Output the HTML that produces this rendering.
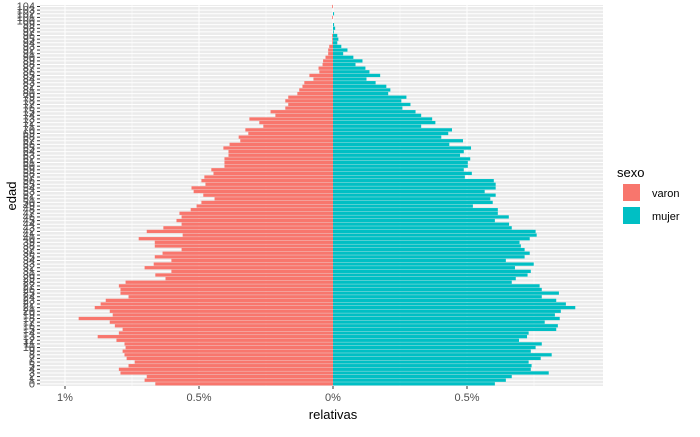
<!DOCTYPE html>
<html><head><meta charset="utf-8"><style>
body{margin:0;background:#fff;}
svg text{font-family:"Liberation Sans",sans-serif;}
</style></head><body>
<svg id="chart" width="700" height="432" xmlns="http://www.w3.org/2000/svg">
<rect x="0" y="0" width="700" height="432" fill="#fff"/>
<rect x="40" y="5" width="563" height="381" fill="#EBEBEB"/>
<g id="grid"></g><g id="bars"></g><g id="yticks"></g><g id="xticks"></g>
<text x="333" y="419" font-size="13" fill="#000" text-anchor="middle">relativas</text>
<text x="16" y="196" font-size="13" fill="#000" text-anchor="middle" transform="rotate(-90 16 196)">edad</text>
<g>
<text x="617" y="177" font-size="13">sexo</text>
<rect x="623" y="184" width="17" height="17" fill="#F8766D"/>
<text x="652" y="197" font-size="11">varon</text>
<rect x="623" y="207" width="17" height="17" fill="#00BFC4"/>
<text x="652" y="220" font-size="11">mujer</text>
</g>
</svg>
<script>
const ages = [];
for (let a = 0; a <= 104; a++) ages.push(a);
const varon = [0.663,0.703,0.695,0.793,0.799,0.763,0.740,0.770,0.778,0.785,0.774,0.778,0.808,0.878,0.799,0.785,0.814,0.833,0.949,0.822,0.833,0.889,0.867,0.848,0.763,0.793,0.793,0.799,0.774,0.625,0.663,0.603,0.703,0.669,0.603,0.665,0.636,0.565,0.665,0.665,0.725,0.561,0.695,0.633,0.565,0.584,0.565,0.573,0.531,0.509,0.491,0.442,0.484,0.520,0.528,0.476,0.491,0.480,0.446,0.454,0.405,0.405,0.405,0.390,0.390,0.409,0.386,0.346,0.352,0.316,0.327,0.260,0.275,0.312,0.215,0.233,0.178,0.167,0.178,0.167,0.133,0.126,0.114,0.107,0.073,0.088,0.051,0.054,0.039,0.037,0.028,0.018,0.018,0.014,0.003,0.003,0.003,0,0,0,0,0.003,0,0,0.003];
const mujer = [0.604,0.645,0.667,0.805,0.738,0.741,0.730,0.775,0.816,0.738,0.756,0.779,0.694,0.724,0.730,0.833,0.839,0.790,0.846,0.828,0.850,0.904,0.869,0.833,0.779,0.843,0.779,0.771,0.667,0.682,0.726,0.738,0.679,0.749,0.645,0.715,0.734,0.715,0.701,0.696,0.734,0.760,0.756,0.667,0.657,0.604,0.656,0.615,0.615,0.522,0.596,0.587,0.607,0.566,0.607,0.607,0.600,0.492,0.518,0.488,0.503,0.503,0.512,0.474,0.488,0.515,0.434,0.485,0.404,0.430,0.444,0.329,0.382,0.370,0.329,0.308,0.259,0.289,0.255,0.274,0.206,0.214,0.199,0.159,0.125,0.176,0.136,0.121,0.084,0.110,0.076,0.038,0.054,0.031,0.016,0.020,0.016,0.003,0.008,0.004,0,0,0.004,0,0];
const xTickValues = [-1,-0.5,0,0.5];
const xTickLabels = ["1%","0.5%","0%","0.5%"];
const xMinor = [-0.75,-0.25,0.25,0.75];

const NS = "http://www.w3.org/2000/svg";
const xScale = v => 333 + v * 268;
const yScale = a => 386 - (a + 0.6) * 3.628;
const bandH = 3.628 * 0.9;
function mk(tag, attrs, parent) {
  const e = document.createElementNS(NS, tag);
  for (const k in attrs) e.setAttribute(k, attrs[k]);
  parent.appendChild(e);
  return e;
}
const grid = document.getElementById('grid');
xMinor.forEach(v => {
  const l = mk('line', {x1: xScale(v), x2: xScale(v), y1: 5, y2: 386, stroke: '#fff', 'stroke-width': 0.5}, grid);
  
  
});
xTickValues.forEach(v => {
  const l = mk('line', {x1: xScale(v), x2: xScale(v), y1: 5, y2: 386, stroke: '#fff', 'stroke-width': 1}, grid);
  
  
});
ages.forEach(a => {
  const l = mk('line', {x1: 40, x2: 603, y1: yScale(a), y2: yScale(a), stroke: '#fff', 'stroke-width': 1}, grid);
  
  
});
const bars = document.getElementById('bars');
ages.forEach((a, i) => {
  const yc = yScale(a);
  const pv = varon[i];
  const p = mk('rect', {x: xScale(-pv), y: yc - bandH / 2, width: xScale(0) - xScale(-pv), height: bandH, fill: '#F8766D'}, bars);
  
  
  const mv = mujer[i];
  const m = mk('rect', {x: xScale(0), y: yc - bandH / 2, width: xScale(mv) - xScale(0), height: bandH, fill: '#00BFC4'}, bars);
  
  
});
const yt = document.getElementById('yticks');
ages.forEach(a => {
  const t = mk('line', {x1: 37, x2: 40, y1: yScale(a), y2: yScale(a), stroke: '#333', 'stroke-width': 1}, yt);
  
  
  const tx = mk('text', {x: 35, y: yScale(a) + 3.5, 'font-size': 11, fill: '#4D4D4D', 'text-anchor': 'end'}, yt);
  
  
  tx.textContent = a;
});
const xt = document.getElementById('xticks');
xTickValues.forEach((v, i) => {
  const t = mk('line', {x1: xScale(v), x2: xScale(v), y1: 386, y2: 389, stroke: '#333', 'stroke-width': 1}, xt);
  
  
  const tx = mk('text', {x: xScale(v), y: 401, 'font-size': 11, fill: '#4D4D4D', 'text-anchor': 'middle'}, xt);
  
  
  tx.textContent = xTickLabels[i];
});
</script>
</body></html>
